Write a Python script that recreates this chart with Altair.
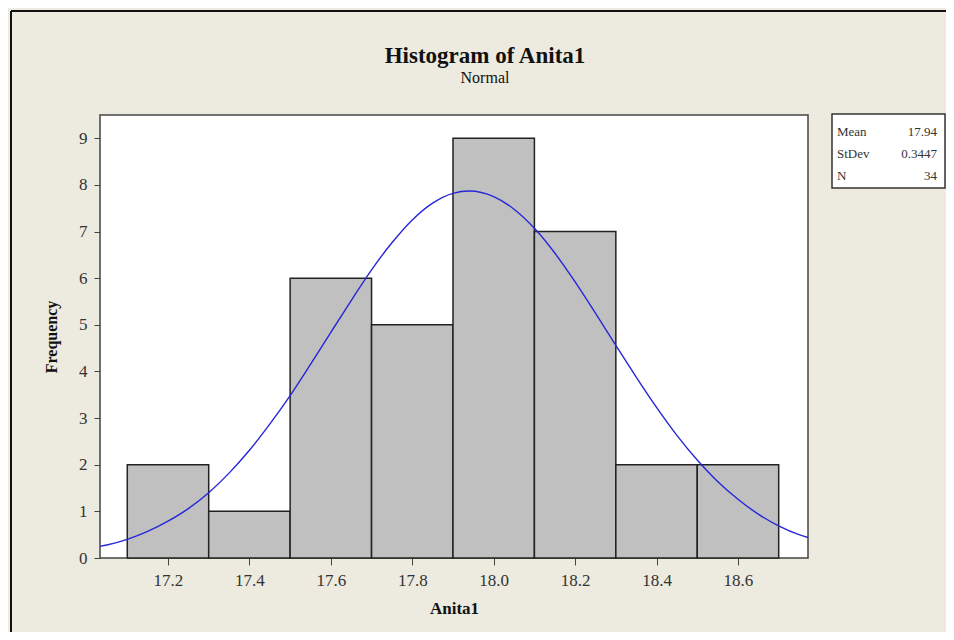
import altair as alt
import pandas as pd

# Histogram bins (edges) and counts
bin_start = [17.1, 17.3, 17.5, 17.7, 17.9, 18.1, 18.3, 18.5]
bin_end = [17.3, 17.5, 17.7, 17.9, 18.1, 18.3, 18.5, 18.7]
counts = [2, 1, 6, 5, 9, 7, 2, 2]

# Fitted normal curve
curve_x = [17.033, 17.05, 17.1, 17.15, 17.2, 17.25, 17.3, 17.35, 17.4, 17.45, 17.5,
           17.55, 17.6, 17.65, 17.7, 17.75, 17.8, 17.85, 17.9, 17.94, 18.0, 18.05,
           18.1, 18.15, 18.2, 18.25, 18.3, 18.35, 18.4, 18.45, 18.5, 18.55, 18.6,
           18.65, 18.7, 18.75, 18.772]
curve_y = [0.25, 0.28, 0.40, 0.57, 0.79, 1.06, 1.40, 1.82, 2.31, 2.87, 3.48,
           4.15, 4.84, 5.52, 6.18, 6.76, 7.25, 7.61, 7.82, 7.87, 7.75, 7.48,
           7.07, 6.54, 5.92, 5.25, 4.56, 3.88, 3.23, 2.63, 2.10, 1.64, 1.26,
           0.94, 0.69, 0.50, 0.44]

# Stats box
stat_labels = ["Mean", "StDev", "N"]
stat_values = ["17.94", "0.3447", "34"]

title_text = "Histogram of Anita1"
subtitle_text = "Normal"

x_ticks = [17.2, 17.4, 17.6, 17.8, 18.0, 18.2, 18.4, 18.6]
y_ticks = [0, 1, 2, 3, 4, 5, 6, 7, 8, 9]

SERIF = "Liberation Serif"

hist_df = pd.DataFrame({"start": bin_start, "end": bin_end, "count": counts,
                        "base": [0] * len(counts)})
curve_df = pd.DataFrame({"x": curve_x, "y": curve_y})
one = pd.DataFrame({"a": [0]})

xscale = alt.Scale(domain=[17.033, 18.772], nice=False, zero=False)
yscale = alt.Scale(domain=[0, 9.5], nice=False)

xaxis = alt.Axis(values=x_ticks, format=".1f", title="Anita1", grid=False, domain=False,
                 tickSize=7, tickColor="#444", labelFont=SERIF, labelFontSize=17,
                 labelColor="#333", labelPadding=7, titleFont=SERIF, titleFontSize=17,
                 titleFontWeight="bold", titleColor="#111", titlePadding=12)
yaxis = alt.Axis(values=y_ticks, format="d", title="Frequency", grid=False, domain=False,
                 tickSize=6, tickColor="#444", labelFont=SERIF, labelFontSize=17,
                 labelColor="#333", labelPadding=7, titleFont=SERIF, titleFontSize=16,
                 titleFontWeight="bold", titleColor="#111", titlePadding=19)

bars = alt.Chart(hist_df).mark_rect(color="#c0c0c0", stroke="#222", strokeWidth=1.5).encode(
    x=alt.X("start:Q", scale=xscale, axis=xaxis),
    x2="end:Q",
    y=alt.Y("count:Q", scale=yscale, axis=yaxis),
    y2="base:Q",
)

curve = alt.Chart(curve_df).mark_line(color="#2626d9", strokeWidth=1.4,
                                      interpolate="monotone", clip=True).encode(
    x=alt.X("x:Q", scale=xscale),
    y=alt.Y("y:Q", scale=yscale),
)

# outer frame lines (left and top)
frame_left = alt.Chart(one).mark_rule(color="#111", strokeWidth=2).encode(
    x=alt.value(-89), y=alt.value(-104), y2=alt.value(540))
frame_top = alt.Chart(one).mark_rule(color="#111", strokeWidth=2).encode(
    x=alt.value(-89), x2=alt.value(850), y=alt.value(-104))

# stats box
box = alt.Chart(one).mark_rect(fill="white", stroke="#333", strokeWidth=1.5).encode(
    x=alt.value(732), x2=alt.value(845), y=alt.value(-1), y2=alt.value(73))

# title and subtitle
title = alt.Chart(one).mark_text(align="center", baseline="alphabetic", font=SERIF,
                                 fontSize=23, fontWeight="bold", color="#111").encode(
    x=alt.value(385), y=alt.value(-52), text=alt.value(title_text))
subtitle = alt.Chart(one).mark_text(align="center", baseline="alphabetic", font=SERIF,
                                    fontSize=16, color="#111").encode(
    x=alt.value(385), y=alt.value(-32), text=alt.value(subtitle_text))

layers = [frame_left, frame_top, bars, curve, box, title, subtitle]
row_y = [21, 43, 65]
for lab, val, yy in zip(stat_labels, stat_values, row_y):
    layers.append(alt.Chart(one).mark_text(align="left", baseline="alphabetic", font=SERIF,
                                           fontSize=13, color="#333").encode(
        x=alt.value(737), y=alt.value(yy), text=alt.value(lab)))
    layers.append(alt.Chart(one).mark_text(align="right", baseline="alphabetic", font=SERIF,
                                           fontSize=13, color="#333").encode(
        x=alt.value(837), y=alt.value(yy), text=alt.value(val)))

chart = alt.layer(*layers).properties(
    width=708,
    height=443,
    padding={"left": 92, "top": 107, "right": 138, "bottom": 74},
    autosize=alt.AutoSizeParams(type="none"),
).configure(background="#EDEADF").configure_view(stroke="#444", strokeWidth=1.5, fill="white")

chart.save("out.html", embed_options={"renderer": "svg", "actions": False})
